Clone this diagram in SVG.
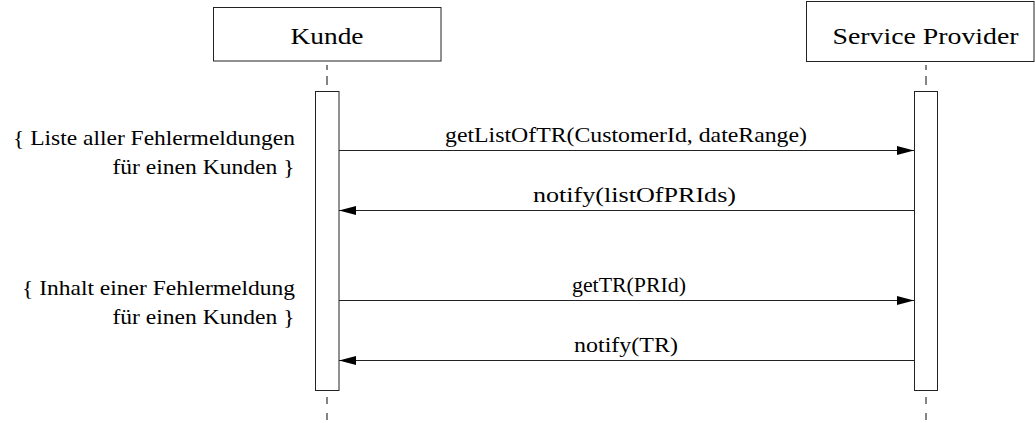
<svg xmlns="http://www.w3.org/2000/svg" width="1035" height="423" viewBox="0 0 1035 423">
  <style>
    .box { fill: #ffffff; stroke: #222222; stroke-width: 1; }
    .life { fill: none; stroke: #333333; stroke-width: 1.2; }
    .msg { fill: none; stroke: #222222; stroke-width: 1; }
    .txt { font-family: "Liberation Serif", "Times New Roman", Times, serif; fill: #000000; }
    .head { font-size: 24px; text-anchor: middle; }
    .lbl { font-size: 22px; }
    .note { font-size: 22px; text-anchor: end; }
  </style>
  <defs>
    <marker id="arrow" viewBox="0 0 17 9" refX="17" refY="4.5" markerWidth="17" markerHeight="9" markerUnits="userSpaceOnUse" orient="auto">
      <path d="M0 0L17 4.5L0 9z" fill="#000000"/>
    </marker>
  </defs>

  <!-- participant: Kunde -->
  <g id="kunde">
    <rect class="box" x="213.5" y="7.5" width="227.5" height="53.5"/>
    <text class="txt head" x="327" y="44" textLength="73" lengthAdjust="spacingAndGlyphs">Kunde</text>
    <path class="life" d="M327 65V70M327 76V85M327 397V404M327 413V420"/>
    <rect class="box" x="315.5" y="91.5" width="23.5" height="299"/>
  </g>

  <!-- participant: Service Provider -->
  <g id="service-provider">
    <rect class="box" x="806.5" y="1.5" width="227.5" height="60"/>
    <text class="txt head" x="925.5" y="44" textLength="186" lengthAdjust="spacingAndGlyphs">Service Provider</text>
    <path class="life" d="M926 65V70M926 76V85M926 397V404M926 413V420"/>
    <rect class="box" x="914.5" y="91.5" width="23" height="299"/>
  </g>

  <!-- annotations -->
  <g id="note-liste">
    <text class="txt note" x="295" y="145" textLength="282" lengthAdjust="spacingAndGlyphs">{ Liste aller Fehlermeldungen</text>
    <text class="txt note" x="294.5" y="174" textLength="182" lengthAdjust="spacingAndGlyphs">für einen Kunden }</text>
  </g>
  <g id="note-inhalt">
    <text class="txt note" x="295" y="295" textLength="273" lengthAdjust="spacingAndGlyphs">{ Inhalt einer Fehlermeldung</text>
    <text class="txt note" x="294.5" y="324" textLength="182" lengthAdjust="spacingAndGlyphs">für einen Kunden }</text>
  </g>

  <!-- messages -->
  <g id="connectors">
    <line class="msg" x1="339" y1="150.5" x2="914" y2="150.5" marker-end="url(#arrow)"/>
    <line class="msg" x1="914" y1="210.5" x2="339" y2="210.5" marker-end="url(#arrow)"/>
    <line class="msg" x1="339" y1="300.5" x2="914" y2="300.5" marker-end="url(#arrow)"/>
    <line class="msg" x1="914" y1="360.5" x2="339" y2="360.5" marker-end="url(#arrow)"/>
    <text class="txt lbl" x="445" y="142" textLength="362" lengthAdjust="spacingAndGlyphs">getListOfTR(CustomerId, dateRange)</text>
    <text class="txt lbl" x="533" y="202" textLength="203" lengthAdjust="spacingAndGlyphs">notify(listOfPRIds)</text>
    <text class="txt lbl" x="572" y="292" textLength="114" lengthAdjust="spacingAndGlyphs">getTR(PRId)</text>
    <text class="txt lbl" x="574" y="352" textLength="104" lengthAdjust="spacingAndGlyphs">notify(TR)</text>
  </g>
</svg>
